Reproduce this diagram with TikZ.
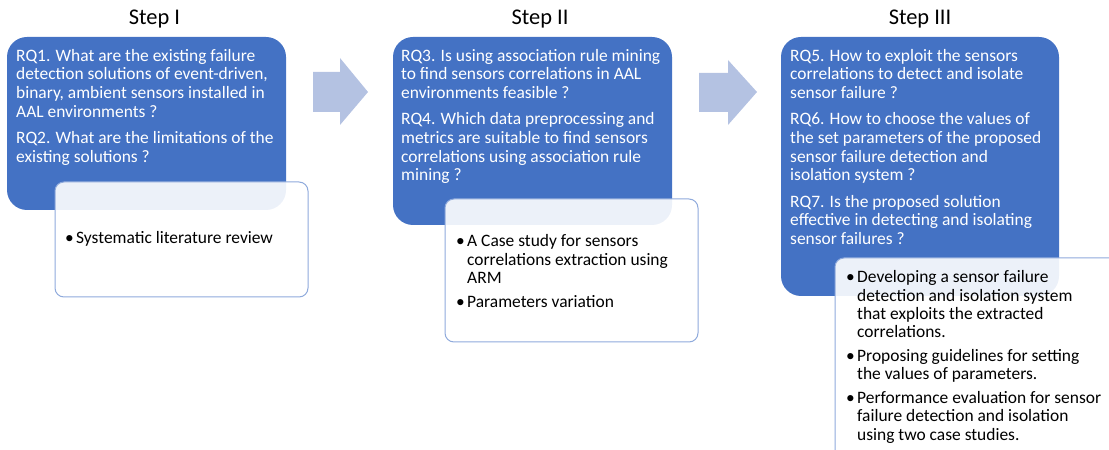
\documentclass[tikz,border=0pt]{standalone}
\usepackage{fontspec}
\setmainfont{Carlito}
\definecolor{blueA}{HTML}{4472C4}
\definecolor{edgeB}{HTML}{8FAADC}
\definecolor{arrowC}{HTML}{B4C2E2}
\newcommand{\bul}{\makebox[11bp][l]{\textbullet}}
\begin{document}
\begin{tikzpicture}[x=1bp,y=-1bp,
  bluebox/.style={fill=blueA, draw=none, rounded corners=20bp},
  notebox/.style={draw=edgeB, line width=1bp, fill=white, fill opacity=0.9, rounded corners=9bp},
  arrowshape/.style={fill=arrowC, draw=none},
  rqtext/.style={anchor=north west, inner sep=0pt, text=white, font=\fontsize{17.5}{18.7}\selectfont},
  bultext/.style={anchor=north west, inner sep=0pt, text=black, font=\fontsize{17.5}{18.5}\selectfont},
  steptitle/.style={anchor=base, inner sep=0pt, font=\fontsize{22.5}{24}\selectfont}]
\useasboundingbox (0,0) rectangle (1109,450);
\clip (0,0) rectangle (1109,450);

% titles
\node[steptitle] (t1) at (154.5,25) {Step I};
\node[steptitle] (t2) at (540,25) {Step II};
\node[steptitle] (t3) at (920,25) {Step III};

% blue boxes
\path[bluebox] (7,37) rectangle (286,210);
\path[bluebox] (393,37) rectangle (672,225);
\path[bluebox] (781,37) rectangle (1059,296);

% arrows
\path[arrowshape] (313,72) -- (340,72) -- (340,58) -- (368,92) -- (340,125) -- (340,112) -- (313,112) -- cycle;
\path[arrowshape] (699,73) -- (728,73) -- (728,60) -- (757,92) -- (728,125) -- (728,112) -- (699,112) -- cycle;

% research questions
\node[rqtext] (rq12) at (16,47.9) {\begin{tabular}{@{}l@{}}
RQ1. What are the existing failure\\
detection solutions of event-driven,\\
binary, ambient sensors installed in\\
AAL environments ?\\[7.8bp]
RQ2. What are the limitations of the\\
existing solutions ?
\end{tabular}};
\node[rqtext] (rq34) at (401,47.9) {\begin{tabular}{@{}l@{}}
RQ3. Is using association rule mining\\
to find sensors correlations in AAL\\
environments feasible ?\\[7.8bp]
RQ4. Which data preprocessing and\\
metrics are suitable to find sensors\\
correlations using association rule\\
mining ?
\end{tabular}};
\node[rqtext] (rq567) at (790,47.9) {\begin{tabular}{@{}l@{}}
RQ5. How to exploit the sensors\\
correlations to detect and isolate\\
sensor failure ?\\[7.8bp]
RQ6. How to choose the values of\\
the set parameters of the proposed\\
sensor failure detection and\\
isolation system ?\\[7.8bp]
RQ7. Is the proposed solution\\
effective in detecting and isolating\\
sensor failures ?
\end{tabular}};

% method boxes
\path[notebox] (55,182) rectangle (308,297);
\path[notebox] (445,199) rectangle (698,342);
\path[notebox] (835,258) rectangle (1125,470);

\node[bultext] (m1) at (65,230) {\begin{tabular}{@{}l@{}l@{}}
\bul & Systematic literature review
\end{tabular}};
\node[bultext] (m2) at (456,233.7) {\begin{tabular}{@{}l@{}l@{}}
\bul & A Case study for sensors\\
 & correlations extraction using\\
 & ARM\\[5bp]
\bul & Parameters variation
\end{tabular}};
\node[bultext] (m3) at (846,269.5) {\begin{tabular}{@{}l@{}l@{}}
\bul & Developing a sensor failure\\
 & detection and isolation system\\
 & that exploits the extracted\\
 & correlations.\\[5bp]
\bul & Proposing guidelines for setting\\
 & the values of parameters.\\[5bp]
\bul & Performance evaluation for sensor\\
 & failure detection and isolation\\
 & using two case studies.
\end{tabular}};
\end{tikzpicture}
\end{document}
